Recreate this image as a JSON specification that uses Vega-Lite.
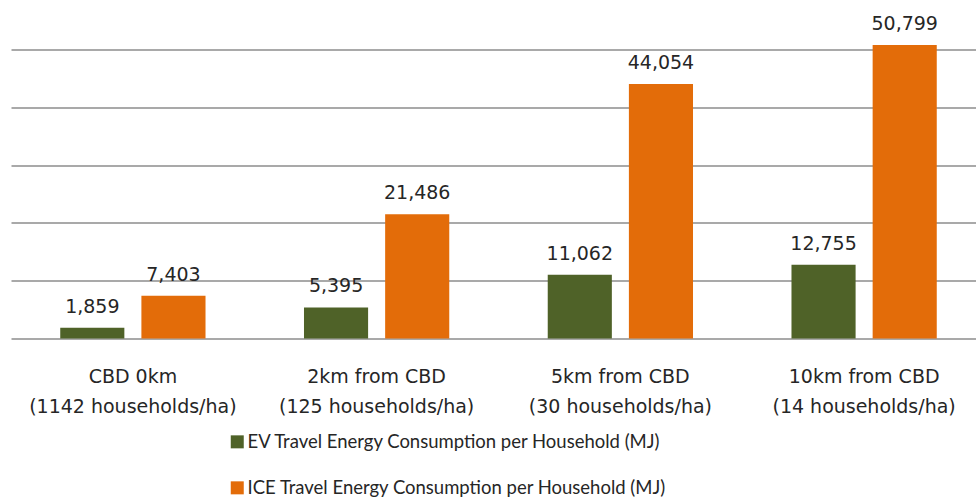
{
  "$schema": "https://vega.github.io/schema/vega-lite/v6.json",
  "width": 975,
  "height": 318,
  "autosize": {"type": "none"},
  "padding": {"left": 11, "top": 20.6, "right": 0, "bottom": 162},
  "background": "white",
  "config": {"view": {"stroke": null}},
  "data": {"values": [
    {"cat": "CBD 0km\n(1142 households/ha)", "series": "EV Travel Energy Consumption per Household (MJ)", "value": 1859},
    {"cat": "CBD 0km\n(1142 households/ha)", "series": "ICE Travel Energy Consumption per Household (MJ)", "value": 7403},
    {"cat": "2km from CBD\n(125 households/ha)", "series": "EV Travel Energy Consumption per Household (MJ)", "value": 5395},
    {"cat": "2km from CBD\n(125 households/ha)", "series": "ICE Travel Energy Consumption per Household (MJ)", "value": 21486},
    {"cat": "5km from CBD\n(30 households/ha)", "series": "EV Travel Energy Consumption per Household (MJ)", "value": 11062},
    {"cat": "5km from CBD\n(30 households/ha)", "series": "ICE Travel Energy Consumption per Household (MJ)", "value": 44054},
    {"cat": "10km from CBD\n(14 households/ha)", "series": "EV Travel Energy Consumption per Household (MJ)", "value": 12755},
    {"cat": "10km from CBD\n(14 households/ha)", "series": "ICE Travel Energy Consumption per Household (MJ)", "value": 50799}
  ]},
  "encoding": {
    "x": {
      "field": "cat", "type": "nominal", "sort": null,
      "scale": {"paddingInner": 0.404, "paddingOuter": 0.202},
      "axis": {
        "title": null, "domain": false, "ticks": false, "labelAngle": 0,
        "labelExpr": "split(datum.label, '\\n')",
        "labelFont": "DejaVu Sans", "labelFontSize": 19, "labelColor": "#262626",
        "labelLineHeight": 30, "labelPadding": 29, "labelBaseline": "top", "labelLimit": 400
      }
    },
    "xOffset": {"field": "series", "type": "nominal", "scale": {"paddingInner": 0.21, "paddingOuter": 0}},
    "y": {
      "field": "value", "type": "quantitative",
      "scale": {"domain": [0, 55000], "nice": false},
      "axis": {
        "title": null, "domain": false, "ticks": false, "labels": false,
        "values": [0, 10000, 20000, 30000, 40000, 50000],
        "grid": true, "gridColor": "#8c8c8c", "gridWidth": 1.5
      }
    }
  },
  "layer": [
    {
      "mark": {"type": "bar"},
      "encoding": {
        "color": {
          "field": "series", "type": "nominal",
          "scale": {"range": ["#4F6228", "#E36C09"]},
          "legend": {
            "title": null, "orient": "none", "legendX": 217, "legendY": 412,
            "direction": "vertical", "symbolType": "square", "symbolSize": 169,
            "symbolStrokeWidth": 0, "labelFont": "Lato", "labelFontSize": 18.5,
            "labelColor": "#262626", "rowPadding": 27, "labelOffset": 1, "labelLimit": 600
          }
        }
      }
    },
    {
      "mark": {"type": "text", "baseline": "alphabetic", "dy": -15, "font": "DejaVu Sans", "fontSize": 19, "color": "#262626"},
      "encoding": {"text": {"field": "value", "type": "quantitative", "format": ","}}
    }
  ]
}
